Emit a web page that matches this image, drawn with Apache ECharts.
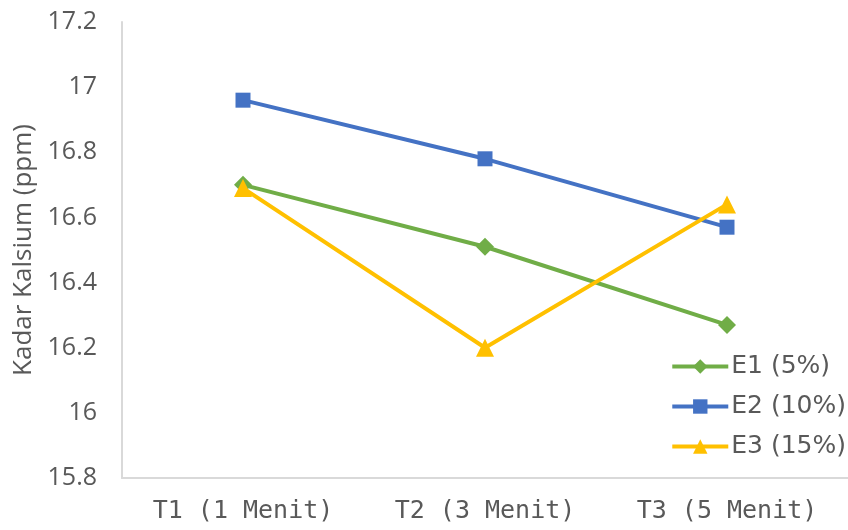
<!DOCTYPE html>
<html><head><meta charset="utf-8">
<script src="https://cdn.jsdelivr.net/npm/echarts@6/dist/echarts.min.js"></script>
<style>html,body{margin:0;padding:0;background:#fff}#c{width:848px;height:530px}</style>
</head><body><div id="c"></div>
<script>
const categories = ['T1 (1 Menit)', 'T2 (3 Menit)', 'T3 (5 Menit)'];
const e1 = [16.70, 16.51, 16.27];
const e2 = [16.96, 16.78, 16.57];
const e3 = [16.69, 16.20, 16.64];
const seriesNames = ['E1 (5%)', 'E2 (10%)', 'E3 (15%)'];
const yTitle = 'Kadar Kalsium (ppm)';

const font = '"DejaVu Sans", Verdana, sans-serif';
const numFont = '"Open Sans", "Noto Sans", sans-serif';
const catFont = '"DejaVu Sans Mono", monospace';
const chart = echarts.init(document.getElementById('c'));
chart.setOption({
  animation: false,
  grid: {left: 122, right: 0, top: 22, bottom: 52, containLabel: false},
  legend: {
    orient: 'vertical', right: 2, top: 354, itemGap: 15, padding: 0,
    itemWidth: 56, itemHeight: 18,
    lineStyle: {width: 4},
    textStyle: {fontFamily: font, fontSize: 25, color: '#595959', padding: [0, 0, 0, -2]},
    data: seriesNames
  },
  xAxis: {
    type: 'category', data: categories, boundaryGap: true,
    axisLine: {lineStyle: {color: '#d9d9d9', width: 2}},
    axisTick: {show: false},
    axisLabel: {fontFamily: catFont, fontSize: 25, color: '#595959', margin: 21}
  },
  yAxis: {
    type: 'value', min: 15.8, max: 17.2, interval: 0.2,
    name: yTitle, nameLocation: 'middle', nameGap: 84,
    nameTextStyle: {fontFamily: numFont, fontSize: 26, color: '#595959'},
    axisLine: {show: true, lineStyle: {color: '#d9d9d9', width: 2}},
    axisTick: {show: false},
    splitLine: {show: false},
    axisLabel: {fontFamily: numFont, fontSize: 25, color: '#595959', margin: 25,
      formatter: v => String(parseFloat(v.toFixed(1)))}
  },
  series: [
    {name: seriesNames[0], type: 'line', data: e1, symbol: 'diamond', symbolSize: 18,
     lineStyle: {width: 4, color: '#70ad47'}, itemStyle: {color: '#70ad47'}},
    {name: seriesNames[1], type: 'line', data: e2, symbol: 'rect', symbolSize: 15,
     lineStyle: {width: 4, color: '#4472c4'}, itemStyle: {color: '#4472c4'}},
    {name: seriesNames[2], type: 'line', data: e3, symbol: 'triangle', symbolSize: 18,
     lineStyle: {width: 4, color: '#ffc000'}, itemStyle: {color: '#ffc000'}}
  ]
});
</script></body></html>
